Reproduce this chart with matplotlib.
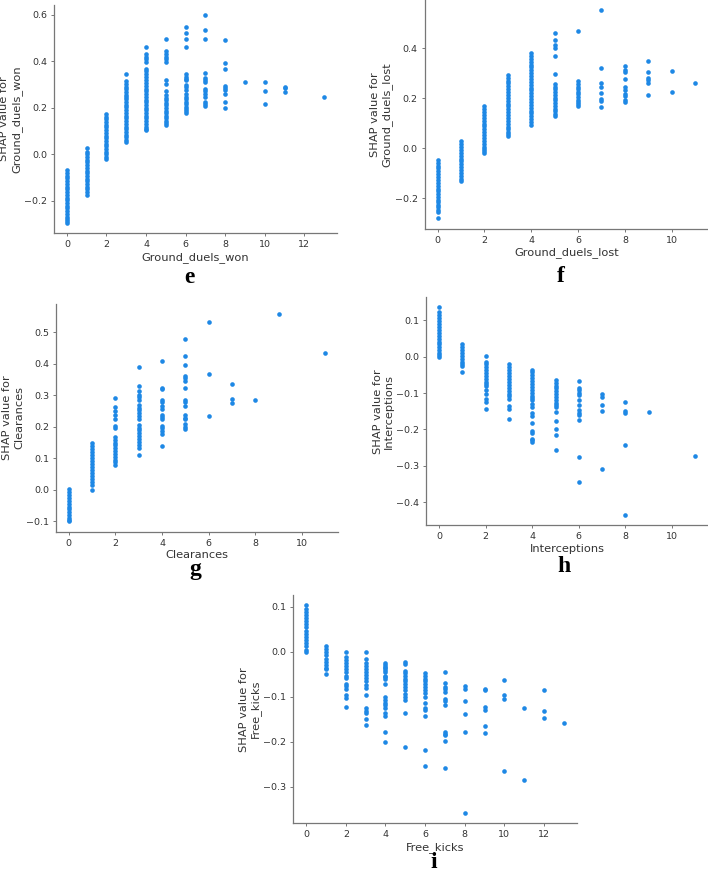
import matplotlib
matplotlib.use("Agg")
import matplotlib.pyplot as plt

# SHAP values per feature value
ground_duels_won = {
    0: [-0.069, -0.081, -0.093, -0.104, -0.116, -0.128, -0.139, -0.151, -0.163, -0.175,
        -0.186, -0.198, -0.210, -0.221, -0.233, -0.245, -0.256, -0.268, -0.279, -0.287, -0.294],
    1: [0.027, 0.010, 0.000, -0.011, -0.023, -0.035, -0.046, -0.058, -0.070, -0.081,
        -0.093, -0.105, -0.116, -0.128, -0.140, -0.151, -0.163, -0.176],
    2: [0.174, 0.162, 0.150, 0.139, 0.127, 0.115, 0.104, 0.092, 0.080, 0.069,
        0.057, 0.045, 0.034, 0.022, 0.010, -0.001, -0.011, -0.020],
    3: [0.345, 0.314, 0.303, 0.291, 0.280, 0.268, 0.256, 0.245, 0.236, 0.224, 0.212, 0.201,
        0.189, 0.177, 0.166, 0.154, 0.142, 0.131, 0.119, 0.107, 0.096, 0.084, 0.072, 0.062, 0.053],
    4: [0.461, 0.431, 0.420, 0.408, 0.395, 0.367, 0.356, 0.344, 0.331, 0.317, 0.305, 0.294,
        0.282, 0.270, 0.259, 0.247, 0.235, 0.224, 0.212, 0.200, 0.189, 0.177, 0.165, 0.154,
        0.142, 0.130, 0.119, 0.110, 0.103],
    5: [0.494, 0.444, 0.431, 0.420, 0.408, 0.396, 0.317, 0.300, 0.270, 0.253, 0.243, 0.232,
        0.221, 0.210, 0.199, 0.188, 0.177, 0.166, 0.155, 0.144, 0.134, 0.124],
    6: [0.548, 0.522, 0.497, 0.463, 0.343, 0.333, 0.325, 0.317, 0.296, 0.287, 0.277, 0.257,
        0.246, 0.236, 0.225, 0.215, 0.205, 0.195, 0.185, 0.177],
    7: [0.597, 0.535, 0.495, 0.348, 0.328, 0.320, 0.310, 0.281, 0.271, 0.260, 0.246, 0.224,
        0.214, 0.206],
    8: [0.491, 0.391, 0.367, 0.294, 0.286, 0.277, 0.257, 0.223, 0.198],
    9: [0.310],
    10: [0.310, 0.270, 0.217],
    11: [0.291, 0.286, 0.266],
    13: [0.246],
}

ground_duels_lost = {
    0: [-0.047, -0.058, -0.070, -0.081, -0.093, -0.104, -0.116, -0.127, -0.139, -0.150,
        -0.162, -0.173, -0.185, -0.196, -0.207, -0.217, -0.227, -0.236, -0.247, -0.256, -0.281],
    1: [0.027, 0.016, 0.004, -0.007, -0.019, -0.030, -0.042, -0.053, -0.065, -0.076,
        -0.088, -0.099, -0.111, -0.122, -0.133],
    2: [0.167, 0.156, 0.144, 0.133, 0.121, 0.110, 0.098, 0.087, 0.075, 0.064,
        0.052, 0.041, 0.029, 0.018, 0.006, -0.005, -0.013, -0.020],
    3: [0.293, 0.282, 0.270, 0.259, 0.247, 0.236, 0.224, 0.213, 0.201, 0.190, 0.178, 0.167,
        0.155, 0.144, 0.132, 0.121, 0.109, 0.098, 0.086, 0.075, 0.063, 0.055, 0.047],
    4: [0.380, 0.369, 0.357, 0.346, 0.334, 0.323, 0.311, 0.300, 0.288, 0.277, 0.265, 0.254,
        0.242, 0.231, 0.219, 0.208, 0.196, 0.185, 0.173, 0.162, 0.150, 0.139, 0.127, 0.116,
        0.104, 0.093],
    5: [0.460, 0.431, 0.413, 0.400, 0.369, 0.297, 0.257, 0.246, 0.235, 0.224, 0.213, 0.202,
        0.191, 0.180, 0.169, 0.158, 0.147, 0.138, 0.129],
    6: [0.467, 0.267, 0.257, 0.246, 0.236, 0.225, 0.215, 0.204, 0.194, 0.183, 0.175, 0.167],
    7: [0.551, 0.320, 0.260, 0.244, 0.220, 0.196, 0.187, 0.163],
    8: [0.327, 0.311, 0.303, 0.277, 0.243, 0.233, 0.216, 0.209, 0.191, 0.184],
    9: [0.349, 0.303, 0.280, 0.271, 0.260, 0.211],
    10: [0.309, 0.224],
    11: [0.261],
}

clearances = {
    0: [0.002, -0.008, -0.017, -0.026, -0.035, -0.044, -0.053, -0.062, -0.071, -0.080,
        -0.089, -0.095, -0.100],
    1: [0.147, 0.138, 0.128, 0.119, 0.109, 0.100, 0.090, 0.081, 0.071, 0.062, 0.052,
        0.043, 0.033, 0.024, 0.016, 0.000],
    2: [0.292, 0.261, 0.251, 0.237, 0.224, 0.202, 0.195, 0.168, 0.159, 0.150, 0.141,
        0.132, 0.123, 0.114, 0.105, 0.096, 0.088, 0.079],
    3: [0.389, 0.328, 0.314, 0.302, 0.294, 0.286, 0.268, 0.260, 0.253, 0.242, 0.235,
        0.224, 0.205, 0.197, 0.189, 0.179, 0.170, 0.161, 0.152, 0.143, 0.132, 0.109],
    4: [0.409, 0.323, 0.319, 0.286, 0.279, 0.265, 0.255, 0.237, 0.230, 0.223, 0.203,
        0.195, 0.186, 0.177, 0.139],
    5: [0.477, 0.423, 0.396, 0.360, 0.355, 0.344, 0.324, 0.284, 0.279, 0.266, 0.237,
        0.229, 0.223, 0.208, 0.200, 0.193],
    6: [0.532, 0.368, 0.235],
    7: [0.335, 0.288, 0.275],
    8: [0.284],
    9: [0.556],
    11: [0.433],
}

interceptions = {
    0: [0.136, 0.122, 0.114, 0.106, 0.098, 0.090, 0.082, 0.074, 0.066, 0.058, 0.050,
        0.042, 0.034, 0.026, 0.018, 0.010, 0.004, -0.001],
    1: [0.034, 0.026, 0.018, 0.010, 0.002, -0.006, -0.014, -0.020, -0.024, -0.042],
    2: [0.001, -0.013, -0.021, -0.029, -0.037, -0.045, -0.053, -0.061, -0.068, -0.074,
        -0.081, -0.091, -0.101, -0.117, -0.124, -0.144],
    3: [-0.021, -0.029, -0.037, -0.045, -0.053, -0.061, -0.069, -0.077, -0.085, -0.093,
        -0.101, -0.109, -0.117, -0.136, -0.145, -0.170],
    4: [-0.035, -0.043, -0.051, -0.059, -0.067, -0.075, -0.083, -0.091, -0.099, -0.107,
        -0.114, -0.120, -0.130, -0.138, -0.154, -0.164, -0.182, -0.204, -0.211, -0.225,
        -0.229, -0.234],
    5: [-0.063, -0.071, -0.079, -0.087, -0.095, -0.103, -0.111, -0.119, -0.126, -0.132,
        -0.138, -0.152, -0.176, -0.200, -0.214, -0.257],
    6: [-0.067, -0.085, -0.092, -0.100, -0.106, -0.120, -0.133, -0.147, -0.154, -0.161,
        -0.174, -0.275, -0.344],
    7: [-0.103, -0.112, -0.133, -0.150, -0.310],
    8: [-0.124, -0.150, -0.156, -0.243, -0.435],
    9: [-0.151],
    11: [-0.274],
}

free_kicks = {
    0: [0.103, 0.096, 0.089, 0.082, 0.075, 0.068, 0.061, 0.054, 0.047, 0.040, 0.033,
        0.026, 0.019, 0.012, 0.005, -0.001],
    1: [0.013, 0.006, -0.001, -0.008, -0.015, -0.022, -0.029, -0.035, -0.039, -0.049],
    2: [0.000, -0.011, -0.018, -0.025, -0.032, -0.039, -0.046, -0.053, -0.059, -0.072,
        -0.077, -0.082, -0.096, -0.103, -0.122],
    3: [0.000, -0.017, -0.024, -0.031, -0.038, -0.045, -0.052, -0.059, -0.066, -0.074,
        -0.081, -0.096, -0.125, -0.131, -0.136, -0.149, -0.163],
    4: [-0.026, -0.029, -0.033, -0.037, -0.040, -0.044, -0.054, -0.057, -0.061, -0.071,
        -0.101, -0.107, -0.113, -0.119, -0.125, -0.135, -0.142, -0.178, -0.200],
    5: [-0.022, -0.027, -0.042, -0.048, -0.054, -0.060, -0.066, -0.072, -0.079, -0.085,
        -0.094, -0.100, -0.107, -0.136, -0.212],
    6: [-0.048, -0.054, -0.060, -0.066, -0.072, -0.079, -0.085, -0.091, -0.101, -0.113,
        -0.125, -0.129, -0.142, -0.219, -0.253],
    7: [-0.046, -0.069, -0.079, -0.083, -0.089, -0.105, -0.110, -0.118, -0.178, -0.183,
        -0.186, -0.198, -0.259],
    8: [-0.077, -0.083, -0.109, -0.139, -0.178, -0.358],
    9: [-0.082, -0.085, -0.122, -0.130, -0.164, -0.180],
    10: [-0.063, -0.097, -0.104, -0.264],
    11: [-0.125, -0.284],
    12: [-0.086, -0.131, -0.148],
    13: [-0.158],
}

panels = [
    ("Ground_duels_won", ground_duels_won, "e", [0.0763, 0.7334, 0.3997, 0.2609], (189, 283)),
    ("Ground_duels_lost", ground_duels_lost, "f", [0.5999, 0.7383, 0.4001, 0.2617], (561, 282)),
    ("Clearances", clearances, "g", [0.0791, 0.3916, 0.3983, 0.2605], (195, 575)),
    ("Interceptions", interceptions, "h", [0.6021, 0.3990, 0.3979, 0.2612], (564, 572)),
    ("Free_kicks", free_kicks, "i", [0.4143, 0.0580, 0.4003, 0.2612], (434, 868)),
]

W, H = 708, 874
AXIS_COLOR = "#333333"
DOT_COLOR = "#1E88E5"

fig = plt.figure(figsize=(W / 100, H / 100), dpi=100)

for name, data, letter, rect, (lx, ly) in panels:
    ax = fig.add_axes(rect)
    xs, ys = [], []
    for k, vals in data.items():
        xs += [k] * len(vals)
        ys += vals
    ax.scatter(xs, ys, s=11, color=DOT_COLOR, linewidths=0)

    ax.set_xlabel(name, fontsize=8.2, color=AXIS_COLOR, labelpad=2)
    ax.set_ylabel("SHAP value for\n" + name, fontsize=8.2, color=AXIS_COLOR, labelpad=1.5)
    ax.spines["right"].set_visible(False)
    ax.spines["top"].set_visible(False)
    for side in ("left", "bottom"):
        ax.spines[side].set_color("#777777")
        ax.spines[side].set_linewidth(0.9)
    ax.tick_params(color="#777777", labelcolor=AXIS_COLOR, labelsize=6.8,
                   length=2.5, width=0.7, pad=2.5)

    fig.text(lx / W, 1 - ly / H, letter, fontsize=17, fontweight="bold",
             family="Liberation Serif", ha="center", va="baseline")

fig.savefig("out.png", dpi=100)
